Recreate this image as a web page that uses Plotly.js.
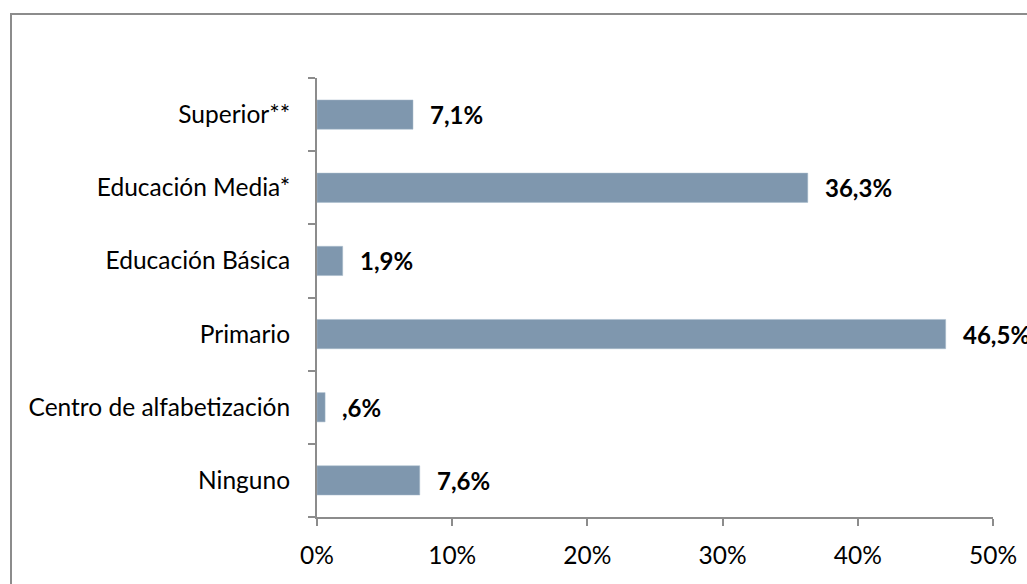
<!DOCTYPE html>
<html><head><meta charset="utf-8">
<script src="https://cdn.plot.ly/plotly-3.0.1.min.js"></script>
<style>
html,body{margin:0;padding:0;background:#fff;}
#frame{position:absolute;left:10px;top:13px;width:1040px;height:600px;border:2px solid #8c8c8c;box-sizing:border-box;}
#chart{position:absolute;left:0;top:0;width:1027px;height:584px;}
</style></head>
<body>
<div id="frame"></div>
<div id="chart"></div>
<script>
const categories = ["Ninguno","Centro de alfabetización","Primario","Educación Básica","Educación Media*","Superior**"];
const values = [7.6, 0.6, 46.5, 1.9, 36.3, 7.1];
const labels = ["7,6%", ",6%", "46,5%", "1,9%", "36,3%", "7,1%"];
const xTicks = [0,10,20,30,40,50];
const xTickLabels = ["0%","10%","20%","30%","40%","50%"];

const font = "Lato, 'Open Sans', sans-serif";
const trace = {
  type:"bar", orientation:"h", x:values, y:categories,
  marker:{color:"#7f97ae", line:{color:"#a9bccd", width:0.5}},
  hoverinfo:"skip"
};
const annotations = categories.map((c,i)=>({
  x:values[i], y:c, xref:"x", yref:"y", text:"<b>"+labels[i]+"</b>",
  showarrow:false, xanchor:"left", xshift:15, font:{family:font,size:24,color:"#000"}
}));
const layout = {
  width:1027, height:584,
  margin:{l:317, r:34, t:78, b:67},
  paper_bgcolor:"rgba(0,0,0,0)", plot_bgcolor:"rgba(0,0,0,0)",
  bargap:0.6, showlegend:false,
  font:{family:font, size:24.5, color:"#000"},
  xaxis:{range:[0,50], tickvals:xTicks, ticktext:xTickLabels, showgrid:false, zeroline:false,
    showline:true, linecolor:"#8c8c8c", linewidth:2, ticks:"outside", ticklen:7, tickwidth:2, tickcolor:"#8c8c8c",
    ticklabelstandoff:9, fixedrange:true},
  yaxis:{type:"category", categoryorder:"array", categoryarray:categories, showgrid:false, zeroline:false,
    showline:true, linecolor:"#8c8c8c", linewidth:2, ticks:"outside", ticklen:7, tickwidth:2, tickcolor:"#8c8c8c",
    tickson:"boundaries", ticklabelstandoff:20, fixedrange:true},
  annotations:annotations
};
Plotly.newPlot("chart",[trace],layout,{displayModeBar:false,staticPlot:true});
</script>
</body></html>
